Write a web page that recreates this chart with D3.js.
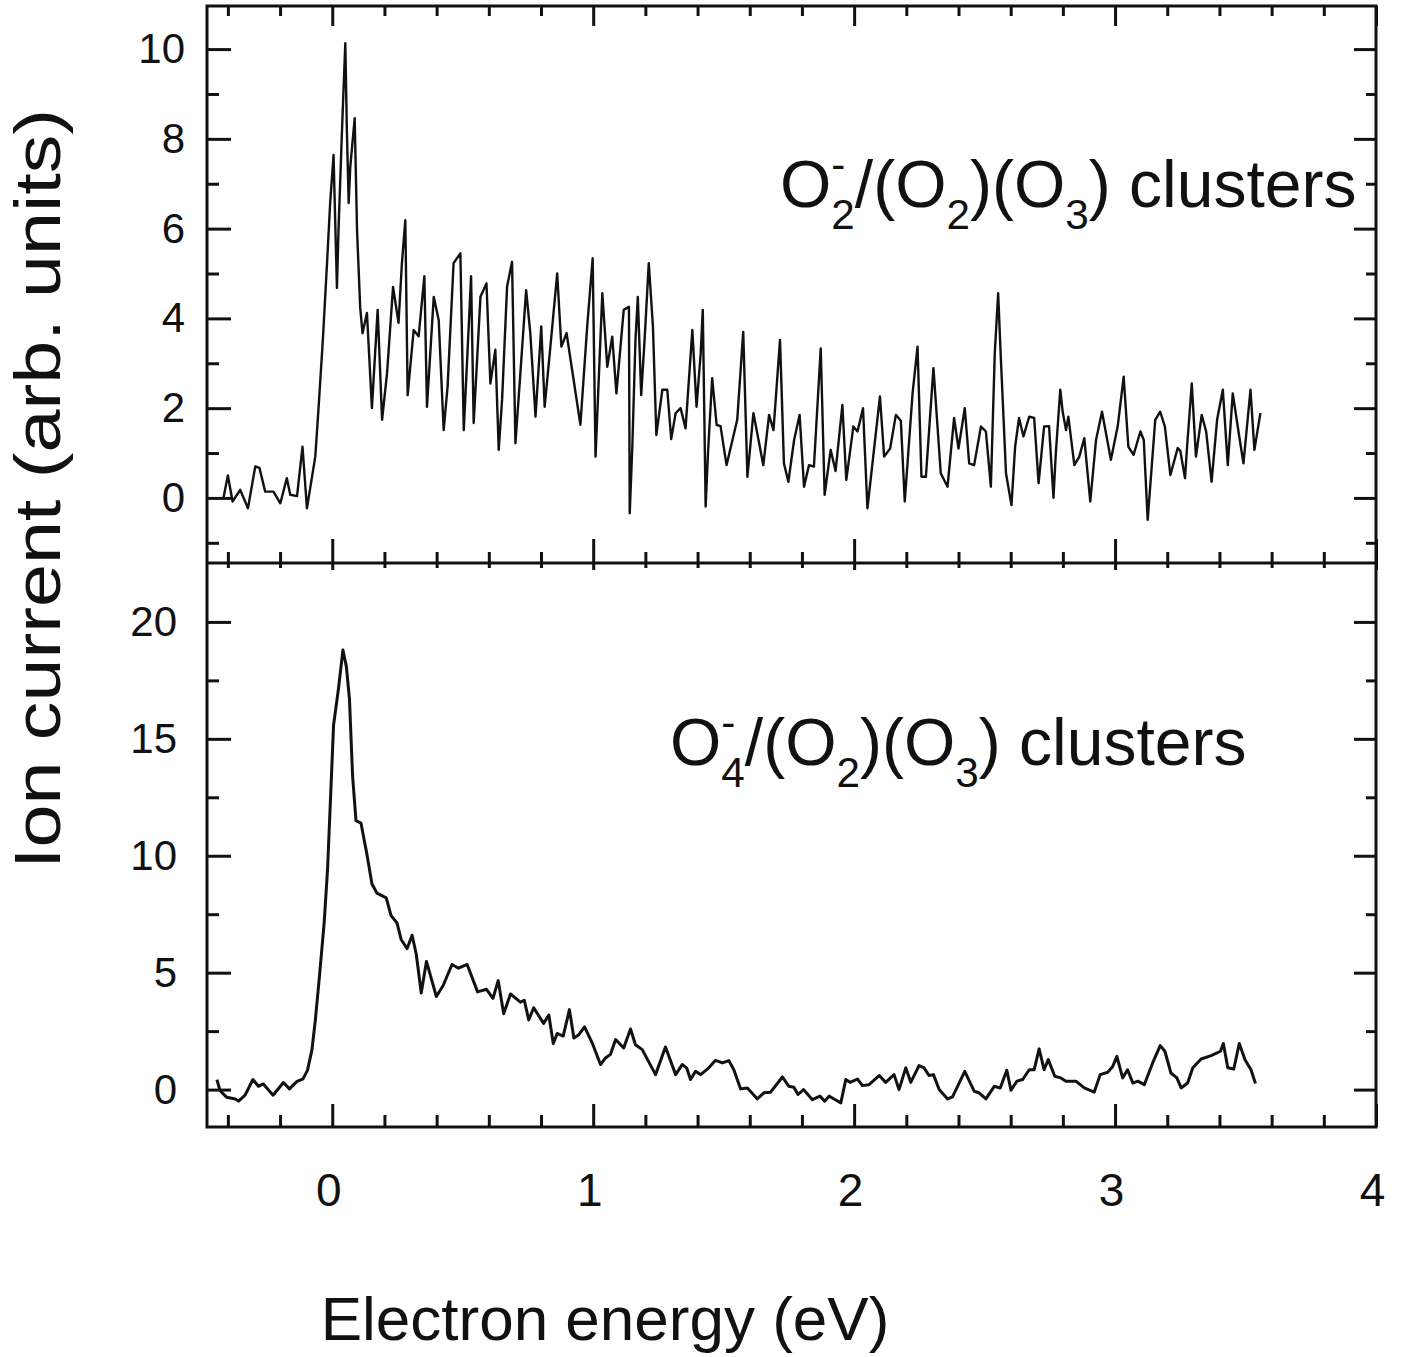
<!DOCTYPE html>
<html>
<head>
<meta charset="utf-8">
<script src="https://cdn.jsdelivr.net/npm/d3@7"></script>
<style>
  body { margin: 0; background: #fff; }
  text { font-family: "Liberation Sans", Arial, Helvetica, sans-serif; fill: #111; }
</style>
</head>
<body>
<svg id="chart" width="1402" height="1357"></svg>
<script>
// O2- / (O2)(O3) clusters, upper panel
var energyTop = [-0.417,-0.400,-0.382,-0.353,-0.323,-0.295,-0.279,-0.257,-0.225,-0.199,-0.174,-0.161,-0.135,-0.114,-0.097,
  -0.065,-0.053,-0.036,-0.020,-0.008,0.005,0.009,0.018,0.024,0.037,0.050,0.056,0.063,0.069,0.086,0.095,0.107,0.116,0.133,
  0.152,0.174,0.191,0.210,0.233,0.254,0.267,0.280,0.289,0.312,0.331,0.353,0.363,0.389,0.408,0.427,0.442,0.465,0.491,0.504,
  0.523,0.532,0.542,0.568,0.591,0.606,0.625,0.638,0.651,0.670,0.689,0.702,0.721,0.743,0.759,0.779,0.801,0.814,0.836,0.862,
  0.878,0.898,0.951,0.977,0.998,1.009,1.035,1.054,1.073,1.089,1.117,1.137,1.140,1.150,1.162,1.171,1.184,1.197,1.213,1.229,
  1.242,1.265,1.284,1.299,1.316,1.335,1.354,1.380,1.396,1.412,1.420,1.431,1.440,1.456,1.473,1.488,1.511,1.552,1.575,1.591,
  1.614,1.652,1.674,1.691,1.716,1.731,1.748,1.770,1.791,1.808,1.827,1.846,1.872,1.887,1.910,1.929,1.955,1.970,1.997,2.013,
  2.034,2.051,2.099,2.115,2.138,2.160,2.179,2.194,2.224,2.243,2.258,2.275,2.304,2.332,2.358,2.383,2.400,2.424,2.441,2.460,
  2.486,2.505,2.524,2.539,2.552,2.562,2.582,2.603,2.617,2.632,2.649,2.671,2.690,2.707,2.728,2.747,2.764,2.773,2.790,2.799,
  2.812,2.821,2.844,2.863,2.882,2.905,2.927,2.950,2.984,3.010,3.033,3.051,3.071,3.097,3.110,3.125,3.154,3.173,3.191,3.212,
  3.240,3.250,3.268,3.276,3.294,3.310,3.332,3.349,3.370,3.391,3.413,3.432,3.451,3.473,3.492,3.519,3.534,3.557];
var currentTop = [0,0.5,-0.08,0.18,-0.23,0.70,0.67,0.14,0.14,-0.12,0.44,0.07,0.04,1.14,-0.23,
  0.92,1.96,3.52,5.23,6.57,7.64,6.7,4.68,5.97,8.13,10.13,8.2,6.57,7.37,8.46,5.97,4.25,3.67,4.12,
  2.0,4.19,1.74,2.78,4.7,3.9,5.23,6.19,2.29,3.74,3.6,4.94,2.03,4.48,3.96,1.51,2.48,5.23,5.45,1.51,
  3.82,4.94,1.67,4.48,4.78,2.55,3.30,1.07,2.2,4.71,5.26,1.22,2.78,4.63,3.67,1.81,3.82,2.03,3.37,5.0,
  3.37,3.67,1.63,3.82,5.34,0.92,4.56,2.92,3.59,2.33,4.19,4.26,-0.34,1.14,3.52,4.48,2.29,3.52,5.23,3.82,
  1.40,2.41,2.41,1.31,1.89,2.0,1.55,3.74,2.03,3.22,4.19,-0.19,1.0,2.67,1.63,1.6,0.73,1.74,3.7,0.47,
  1.89,0.73,1.85,1.51,3.52,0.77,0.36,1.29,1.85,0.25,0.73,0.7,3.33,0.07,1.07,0.6,2.07,0.4,1.59,1.48,
  2.0,-0.23,2.26,0.92,1.1,1.85,1.72,-0.08,2.33,3.37,0.47,0.47,2.89,0.55,0.25,1.78,1.1,2.0,0.77,0.73,
  1.59,1.48,0.25,3.22,4.56,3.15,0.55,-0.16,1.14,1.78,1.37,1.81,1.78,0.33,1.59,1.6,0.0,1.0,2.41,1.93,
  1.51,1.81,0.73,0.92,1.33,-0.08,1.29,1.92,0.85,1.59,2.7,1.14,0.96,1.48,1.29,-0.49,1.74,1.92,1.59,0.51,
  1.11,1.05,0.44,1.14,2.55,0.92,1.85,1.48,0.36,1.74,2.41,0.73,2.33,1.48,0.77,2.41,1.07,1.89];

// O4- / (O2)(O3) clusters, lower panel
var energyBottom = [-0.442,-0.430,-0.404,-0.372,-0.359,-0.334,-0.304,-0.283,-0.264,-0.227,-0.187,-0.164,-0.135,-0.112,
  -0.095,-0.078,-0.065,-0.049,-0.031,-0.018,-0.005,0.005,0.024,0.041,0.054,0.066,0.078,0.091,0.110,0.133,0.152,0.171,
  0.207,0.225,0.248,0.264,0.287,0.306,0.322,0.341,0.361,0.399,0.425,0.459,0.484,0.517,0.557,0.591,0.616,0.636,0.657,
  0.683,0.721,0.736,0.753,0.772,0.810,0.830,0.847,0.862,0.885,0.909,0.926,0.945,0.967,0.996,1.028,1.047,1.066,1.086,
  1.117,1.143,1.162,1.188,1.239,1.277,1.316,1.341,1.358,1.373,1.392,1.412,1.443,1.469,1.495,1.520,1.539,1.565,1.591,
  1.629,1.654,1.680,1.725,1.750,1.769,1.785,1.806,1.840,1.869,1.887,1.904,1.923,1.949,1.968,1.984,2.013,2.032,2.057,
  2.096,2.121,2.153,2.172,2.198,2.217,2.249,2.268,2.287,2.304,2.326,2.358,2.377,2.424,2.460,2.479,2.505,2.537,2.560,
  2.585,2.601,2.624,2.646,2.671,2.690,2.709,2.728,2.744,2.769,2.792,2.812,2.850,2.882,2.920,2.943,2.972,2.991,3.007,
  3.029,3.048,3.068,3.087,3.112,3.144,3.173,3.191,3.214,3.237,3.253,3.278,3.298,3.330,3.368,3.404,3.415,3.432,3.455,
  3.476,3.498,3.521,3.538];
var currentBottom = [0.43,-0.05,-0.33,-0.4,-0.49,-0.24,0.43,0.14,0.24,-0.24,0.30,0.03,0.35,0.46,
  0.82,1.69,2.95,4.85,7.13,9.42,12.9,15.58,17.16,18.8,18.1,16.7,13.4,11.5,11.4,10.05,8.8,8.4,
  8.2,7.45,7.13,6.42,6.03,6.6,5.79,4.13,5.48,3.98,4.45,5.35,5.19,5.35,4.18,4.29,3.9,4.66,3.24,
  4.09,3.74,3.82,2.98,3.5,2.83,3.19,1.97,2.4,2.29,3.42,2.21,2.35,2.68,2.0,1.07,1.35,1.5,2.14,
  1.78,2.59,1.92,1.71,0.64,1.82,0.64,1.07,0.93,0.43,0.78,0.64,0.93,1.25,1.14,1.24,0.85,0.03,0.07,
  -0.4,-0.14,-0.11,0.54,0.14,0.1,-0.21,0.0,-0.43,-0.28,-0.5,-0.28,-0.4,-0.57,0.43,0.31,0.45,0.17,0.21,
  0.6,0.31,0.64,0.0,0.93,0.31,1.03,0.93,0.6,0.64,0.0,-0.4,-0.31,0.78,-0.07,-0.14,-0.4,0.14,0.07,
  0.83,-0.03,0.36,0.43,0.85,0.85,1.74,0.85,1.28,0.57,0.5,0.36,0.36,0.07,-0.11,0.64,0.74,0.99,1.42,
  0.5,0.85,0.28,0.36,0.21,1.14,1.88,1.64,0.71,0.5,0.07,0.28,0.93,1.31,1.45,1.64,1.97,0.93,0.88,
  1.97,1.28,0.85,0.26];

var xMajor = [0, 1, 2, 3, 4];
var xMinor = d3.range(-2, 20).filter(function(i) { return i % 5 !== 0; }).map(function(i) { return i / 5; });
var yTopMajor = [0, 2, 4, 6, 8, 10];
var yTopMinor = [-1, 1, 3, 5, 7, 9];
var yBottomMajor = [0, 5, 10, 15, 20];
var yBottomMinor = [2.5, 7.5, 12.5, 17.5];

var LEFT = 207, RIGHT = 1376, TOP = 6, MID = 563, BOTTOM = 1127;

var svg = d3.select("#chart");

var x = d3.scaleLinear().domain([-0.48, 4.0]).range([LEFT, RIGHT]);
var yTop = d3.scaleLinear().domain([-1.45, 10.96]).range([MID, TOP]);
var yBottom = d3.scaleLinear().domain([-1.6, 22.52]).range([BOTTOM, MID]);

function ticks(axis, values, size, labels) {
	return axis.tickValues(values)
		.tickSizeInner(-size)
		.tickSizeOuter(0)
		.tickFormat(labels ? d3.format("d") : "");
}

function drawAxis(g, axis) {
	g.call(axis);
	g.select(".domain").remove();
	g.selectAll(".tick line").attr("stroke", "#111").attr("stroke-width", 3);
	g.selectAll(".tick text").attr("font-size", 42).attr("fill", "#111")
		.attr("font-family", "'Liberation Sans', Arial, sans-serif");
}

// panel y axes
function yAxes(y, major, minor, labelX) {
	drawAxis(svg.append("g").attr("transform", "translate(" + LEFT + ",0)"),
		ticks(d3.axisLeft(y), major, 24, true).tickPadding(LEFT - labelX));
	drawAxis(svg.append("g").attr("transform", "translate(" + LEFT + ",0)"),
		ticks(d3.axisLeft(y), minor, 12, false));
	drawAxis(svg.append("g").attr("transform", "translate(" + RIGHT + ",0)"),
		ticks(d3.axisRight(y), major, 22, false));
	drawAxis(svg.append("g").attr("transform", "translate(" + RIGHT + ",0)"),
		ticks(d3.axisRight(y), minor, 10, false));
}
yAxes(yTop, yTopMajor, yTopMinor, 185);
yAxes(yBottom, yBottomMajor, yBottomMinor, 177);

// x ticks on every horizontal edge
function xAxes(axisFn, yPos, majorLen, minorLen, labels) {
	var g = svg.append("g").attr("transform", "translate(0," + yPos + ")");
	drawAxis(g, ticks(axisFn(x), xMajor, majorLen, labels).tickPadding(46));
	drawAxis(svg.append("g").attr("transform", "translate(0," + yPos + ")"),
		ticks(axisFn(x), xMinor, minorLen, false));
	return g;
}
xAxes(d3.axisTop, TOP, 20, 10, false);
xAxes(d3.axisBottom, MID, 24, 11, false);
xAxes(d3.axisTop, MID, 7, 5, false);
var xLab = xAxes(d3.axisBottom, BOTTOM, 23, 12, true);
xLab.selectAll(".tick text").attr("font-size", 46).attr("dx", -4);

// frame
svg.append("rect").attr("x", LEFT).attr("y", TOP)
	.attr("width", RIGHT - LEFT).attr("height", BOTTOM - TOP)
	.attr("fill", "none").attr("stroke", "#111").attr("stroke-width", 3);
svg.append("line").attr("x1", LEFT).attr("x2", RIGHT).attr("y1", MID).attr("y2", MID)
	.attr("stroke", "#111").attr("stroke-width", 3);

// traces
svg.append("clipPath").attr("id", "clipTop").append("rect")
	.attr("x", LEFT).attr("y", TOP).attr("width", RIGHT - LEFT).attr("height", MID - TOP);
svg.append("clipPath").attr("id", "clipBottom").append("rect")
	.attr("x", LEFT).attr("y", MID).attr("width", RIGHT - LEFT).attr("height", BOTTOM - MID);

var lineTop = d3.line().x(function(d, i) { return x(energyTop[i]); }).y(function(d) { return yTop(d); });
var lineBottom = d3.line().x(function(d, i) { return x(energyBottom[i]); }).y(function(d) { return yBottom(d); });

svg.append("path").attr("d", lineTop(currentTop)).attr("clip-path", "url(#clipTop)")
	.attr("fill", "none").attr("stroke", "#111").attr("stroke-width", 2.4).attr("stroke-linejoin", "round");
svg.append("path").attr("d", lineBottom(currentBottom)).attr("clip-path", "url(#clipBottom)")
	.attr("fill", "none").attr("stroke", "#111").attr("stroke-width", 3).attr("stroke-linejoin", "round");

// formula labels: sub sits below, sup is stacked over the preceding sub
function formula(px, py, size, parts) {
	var t = svg.append("text").attr("x", px).attr("y", py).attr("font-size", size);
	var shift = 0, lastSub = null, pending = 0;
	parts.forEach(function(p) {
		var target = 0, small = p.sub || p.sup;
		if(p.sub) target = 0.34 * size;
		if(p.sup) target = -0.42 * size;
		var ts = t.append("tspan").text(p.t)
			.attr("font-size", small ? 0.64 * size : size)
			.attr("dy", target - shift);
		if(pending) ts.attr("dx", pending);
		pending = 0;
		if(p.sup && lastSub) {
			var subW = lastSub.node().getComputedTextLength();
			ts.attr("dx", -subW);
			pending = Math.max(subW - ts.node().getComputedTextLength(), 0);
		}
		shift = target;
		lastSub = p.sub ? ts : null;
	});
}

formula(780, 207, 66, [{t: "O"}, {t: "2", sub: true}, {t: "-", sup: true}, {t: "/(O"}, {t: "2", sub: true},
	{t: ")(O"}, {t: "3", sub: true}, {t: ") clusters"}]);
formula(670, 765, 66, [{t: "O"}, {t: "4", sub: true}, {t: "-", sup: true}, {t: "/(O"}, {t: "2", sub: true},
	{t: ")(O"}, {t: "3", sub: true}, {t: ") clusters"}]);

// axis titles
svg.append("text").attr("transform", "translate(60,489) rotate(-90)")
	.attr("text-anchor", "middle").attr("font-size", 64)
	.attr("textLength", 760).attr("lengthAdjust", "spacingAndGlyphs")
	.text("Ion current (arb. units)");
svg.append("text").attr("x", 605).attr("y", 1340)
	.attr("text-anchor", "middle").attr("font-size", 62).text("Electron energy (eV)");
</script>
</body>
</html>
